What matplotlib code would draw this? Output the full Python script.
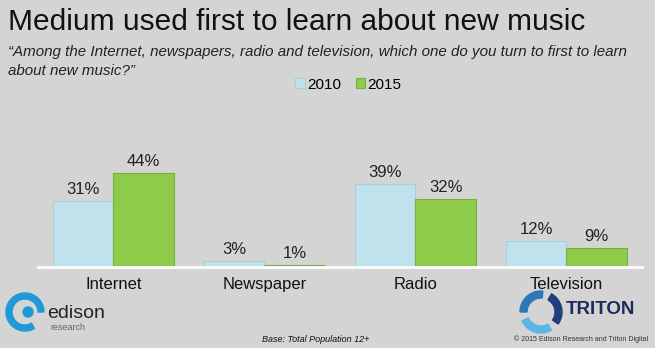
import matplotlib.pyplot as plt
import numpy as np
from matplotlib.patches import Wedge, Circle

categories = ["Internet", "Newspaper", "Radio", "Television"]
years = ["2010", "2015"]
share_2010 = [31, 3, 39, 12]
share_2015 = [44, 1, 32, 9]

bg = "#d4d4d4"
blue = "#bfe2ec"
green = "#8ecb4b"

plt.rcParams['font.family'] = ['Liberation Sans', 'DejaVu Sans']

fig = plt.figure(figsize=(6.55, 3.48), dpi=100, facecolor=bg)
ax = fig.add_axes([0.058, 0.233, 0.922, 0.307], facecolor=bg)

x = np.arange(len(categories))
w = 0.4
b1 = ax.bar(x - w / 2, share_2010, w, color=blue, edgecolor="#a9cfdb", linewidth=0.8, label=years[0])
b2 = ax.bar(x + w / 2, share_2015, w, color=green, edgecolor="#79b03c", linewidth=0.8, label=years[1])
for bars in (b1, b2):
    for r in bars:
        ax.text(r.get_x() + r.get_width() / 2, r.get_height() + 1.8, f"{int(r.get_height())}%",
                ha="center", va="bottom", fontsize=12, color="#222222")

ax.set_xlim(-0.5, 3.5)
ax.set_ylim(0, 50)
ax.set_yticks([])
ax.set_xticks(x)
ax.set_xticklabels(categories, fontsize=12, color="#111111")
ax.tick_params(axis="x", length=0, pad=7)
for s in ["top", "right", "left"]:
    ax.spines[s].set_visible(False)
ax.spines["bottom"].set_color("white")
ax.spines["bottom"].set_linewidth(2)

fig.text(0.012, 0.938, "Medium used first to learn about new music", fontsize=21.5,
         color="#111111", va="center", ha="left")
fig.text(0.012, 0.850, "\u201cAmong the Internet, newspapers, radio and television, which one do you turn to first to learn",
         fontsize=10.9, style="italic", color="#222222", va="center", ha="left")
fig.text(0.012, 0.796, "about new music?\u201d",
         fontsize=10.9, style="italic", color="#222222", va="center", ha="left")

fig.legend(handles=[b1, b2], labels=years, loc="center", bbox_to_anchor=(0.532, 0.757),
           ncol=2, frameon=False, fontsize=11, handlelength=0.6, handleheight=0.6,
           handletextpad=0.15, columnspacing=1.0)

fig.text(0.482, 0.025, "Base: Total Population 12+", fontsize=6.5, style="italic",
         color="#111111", ha="center", va="center")
fig.text(0.99, 0.025, "\u00a9 2015 Edison Research and Triton Digital", fontsize=5,
         color="#333333", ha="right", va="center")

# overlay in pixel coordinates for the two logos
ov = fig.add_axes([0, 0, 1, 1], facecolor="none")
ov.set_xlim(0, 655)
ov.set_ylim(348, 0)
ov.axis("off")

# edison logo (rough)
ov.add_patch(Wedge((25, 312), 19, 60, 360, width=6, color="#1e9ad6"))
ov.add_patch(Circle((28, 312), 5, color="#1e9ad6"))
ov.text(47, 313, "edison", fontsize=14, color="#222222", ha="left", va="center")
ov.text(50, 328, "research", fontsize=6.5, color="#666666", ha="left", va="center")

# triton logo (rough)
for a0, c in [(60, "#5bb6e3"), (180, "#2c78b8"), (300, "#1f3f7a")]:
    ov.add_patch(Wedge((541, 312), 21, a0, a0 + 95, width=7, color=c))
ov.text(566, 310, "TRITON", fontsize=13.5, fontweight="bold", color="#1d2b5c",
        ha="left", va="center")

fig.savefig("out.png", dpi=100, facecolor=bg)
